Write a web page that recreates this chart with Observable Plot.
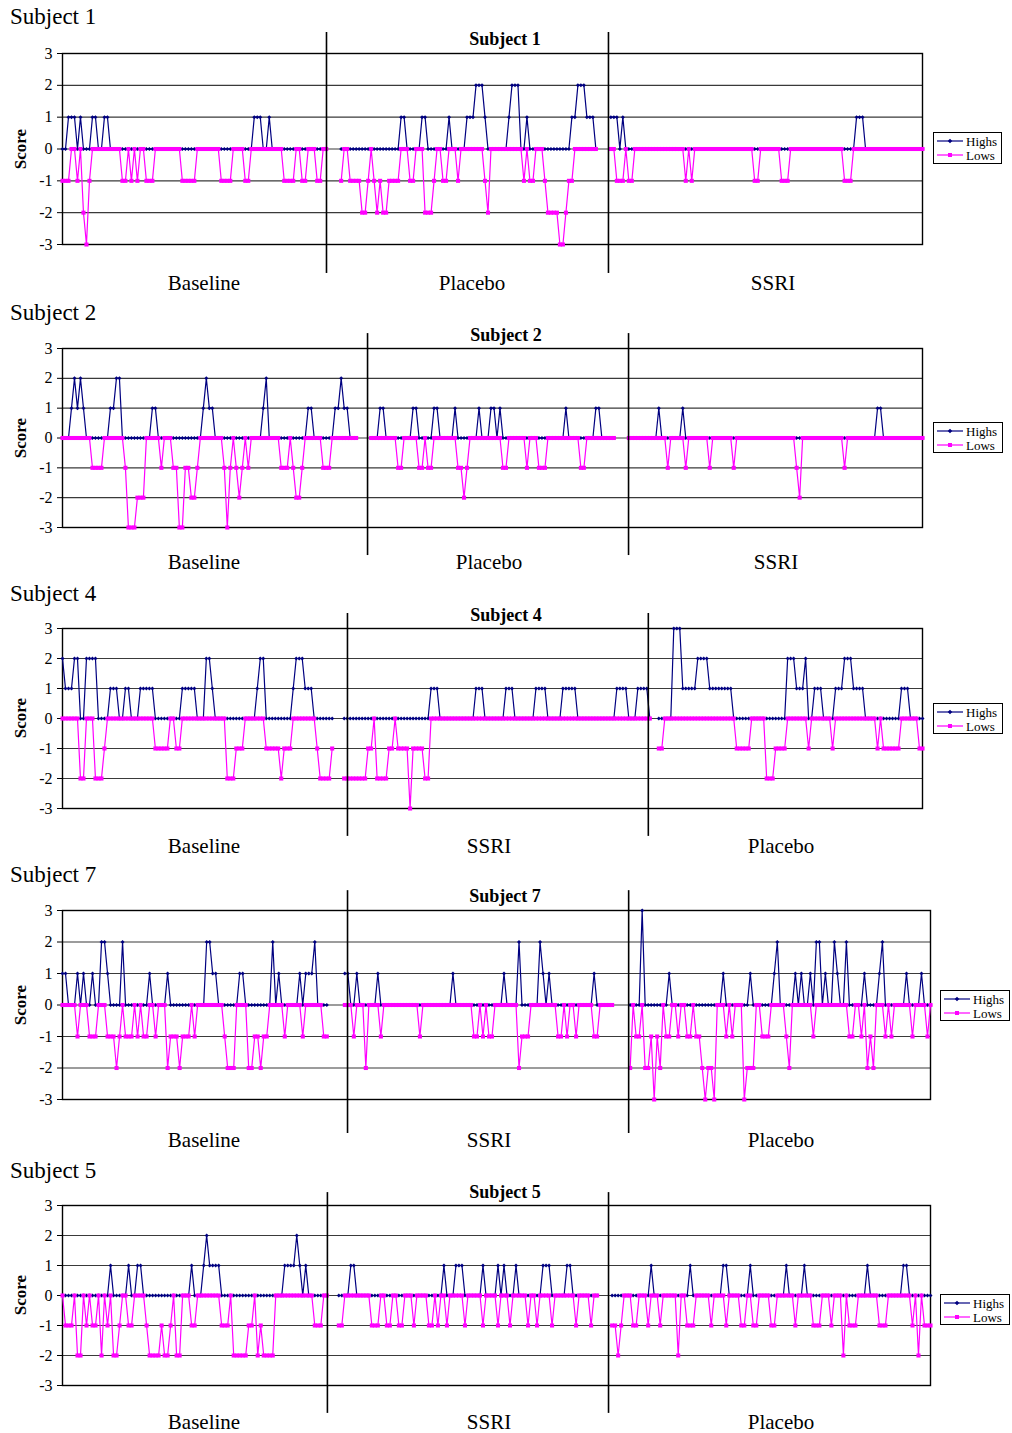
<!DOCTYPE html>
<html><head><meta charset="utf-8">
<script src="https://cdn.jsdelivr.net/npm/d3@7"></script>
<script src="https://cdn.jsdelivr.net/npm/@observablehq/plot@0.6"></script>
<style>
body{margin:0;background:#fff;}
#page{position:relative;width:1012px;height:1433px;font-family:"Liberation Serif","Times New Roman",serif;color:#000;overflow:hidden;}
.big{position:absolute;left:10px;font-size:23px;line-height:1;transform:translateY(-50%);white-space:nowrap;}
.ttl{position:absolute;font-weight:bold;font-size:18px;line-height:1;transform:translate(-50%,-50%);white-space:nowrap;}
.phase{position:absolute;font-size:21px;line-height:1;transform:translate(-50%,-50%);white-space:nowrap;}
.score{position:absolute;font-weight:bold;font-size:17px;line-height:1;transform:translate(-50%,-50%) rotate(-90deg);white-space:nowrap;}
.legend{position:absolute;border:1px solid #000;background:#fff;font-size:13px;}
.plot{position:absolute;left:0;}
</style></head><body><div id="page"></div>
<script>
// ---------- shared ----------
const yTicks = [-3, -2, -1, 0, 1, 2, 3];
const seriesNames = ["Highs", "Lows"];

// ---------- Subject 1 ----------
const s1Phases = ["Baseline", "Placebo", "SSRI"];
const s1Starts = [0, 93, 183];
const s1Dividers = [88.1, 182.2];
const s1BaselineHighs = [0,0,1,1,1,0,1,0,0,0, 1,1,0,0,1,1,0,0,0,0, 0,0,0,0,0,0,0,0,0,0, 0,0,0,0,0,0,0,0,0,0, 0,0,0,0,0,0,0,0,0,0, 0,0,0,0,0,0,0,0,0,0, 0,0,0,0,1,1,1,0,0,1, 0,0,0,0,0,0,0,0,0,0, 0,0,0,0,0,0,0,0,0];
const s1BaselineLows = [-1,-1,-1,0,0,-1,0,-2,-3,-1, 0,0,0,0,0,0,0,0,0,0, -1,-1,0,-1,0,-1,0,0,-1,-1, -1,0,0,0,0,0,0,0,0,0, -1,-1,-1,-1,-1,0,0,0,0,0, 0,0,0,-1,-1,-1,-1,0,0,0, 0,-1,-1,0,0,0,0,0,0,0, 0,0,0,0,-1,-1,-1,-1,0,0, -1,-1,0,0,0,-1,-1,0,0];
const s1PlaceboHighs = [0,0,0,0,0,0,0,0,0,0, 0,0,0,0,0,0,0,0,0,0, 1,1,0,0,0,0,0,1,1,0, 0,0,0,0,0,0,1,0,0,0, 0,0,1,1,1,2,2,2,1,0, 0,0,0,0,0,0,1,2,2,2, 0,0,1,0,0,0,0,0,0,0, 0,0,0,0,0,0,0,1,1,2, 2,2,1,1,1,0];
const s1PlaceboLows = [-1,0,0,-1,-1,-1,-1,-2,-2,-1, 0,-1,-2,-1,-2,-2,-1,-1,-1,-1, 0,0,0,-1,-1,0,0,0,-2,-2, -2,-1,0,0,-1,-1,0,0,0,-1, 0,0,0,0,0,0,0,0,-1,-2, 0,0,0,0,0,0,0,0,0,0, 0,-1,0,-1,-1,0,0,0,-1,-2, -2,-2,-2,-3,-3,-2,-1,-1,0,0, 0,0,0,0,0,0];
const s1SsriHighs = [1,1,1,0,1,0,0,0,0,0, 0,0,0,0,0,0,0,0,0,0, 0,0,0,0,0,0,0,0,0,0, 0,0,0,0,0,0,0,0,0,0, 0,0,0,0,0,0,0,0,0,0, 0,0,0,0,0,0,0,0,0,0, 0,0,0,0,0,0,0,0,0,0, 0,0,0,0,0,0,0,0,0,0, 0,0,1,1,1,0,0,0,0,0, 0,0,0,0,0,0,0,0,0,0, 0,0,0,0,0];
const s1SsriLows = [0,0,-1,-1,-1,0,-1,-1,0,0, 0,0,0,0,0,0,0,0,0,0, 0,0,0,0,0,-1,0,-1,0,0, 0,0,0,0,0,0,0,0,0,0, 0,0,0,0,0,0,0,0,-1,-1, 0,0,0,0,0,0,0,-1,-1,-1, 0,0,0,0,0,0,0,0,0,0, 0,0,0,0,0,0,0,0,-1,-1, -1,0,0,0,0,0,0,0,0,0, 0,0,0,0,0,0,0,0,0,0, 0,0,0,0,0];

// ---------- Subject 2 ----------
const s2Phases = ["Baseline", "Placebo", "SSRI"];
const s2Starts = [0, 103, 189];
const s2Dividers = [101.8, 188.9];
const s2BaselineHighs = [0,0,0,1,2,1,2,1,0,0, 0,0,0,0,0,0,1,1,2,2, 0,0,0,0,0,0,0,0,0,0, 1,1,0,0,0,0,0,0,0,0, 0,0,0,0,0,0,0,1,2,1, 1,0,0,0,0,0,0,0,0,0, 0,0,0,0,0,0,0,1,2,0, 0,0,0,0,0,0,0,0,0,0, 0,0,1,1,0,0,0,0,0,0, 0,1,1,2,1,1,0,0,0];
const s2BaselineLows = [0,0,0,0,0,0,0,0,0,0, -1,-1,-1,-1,0,0,0,0,0,0, 0,-1,-3,-3,-3,-2,-2,-2,0,0, 0,0,0,-1,0,0,0,-1,-1,-3, -3,-1,-1,-2,-2,-1,0,0,0,0, 0,0,0,0,-1,-3,-1,0,-1,-2, -1,0,-1,0,0,0,0,0,0,0, 0,0,0,-1,-1,-1,0,-1,-2,-2, -1,0,0,0,0,0,0,-1,-1,-1, 0,0,0,0,0,0,0,0,0];
const s2PlaceboHighs = [0,0,0,1,1,0,0,0,0,0, 0,0,0,0,1,1,0,0,0,0, 0,1,1,0,0,0,0,0,1,0, 0,0,0,0,0,0,1,0,0,0, 1,1,0,1,0,0,0,0,0,0, 0,0,0,0,0,0,0,0,0,0, 0,0,0,0,0,1,0,0,0,0, 0,0,0,0,0,1,1,0,0,0, 0,0];
const s2PlaceboLows = [0,0,0,0,0,0,0,0,0,-1, -1,0,0,0,0,0,-1,-1,0,-1, -1,0,0,0,0,0,0,0,0,-1, -1,-2,-1,0,0,0,0,0,0,0, 0,0,0,0,-1,-1,0,0,0,0, 0,0,-1,0,0,0,-1,-1,-1,0, 0,0,0,0,0,0,0,0,0,0, -1,-1,0,0,0,0,0,0,0,0, 0,0];
const s2SsriHighs = [0,0,0,0,0,0,0,0,0,0, 1,0,0,0,0,0,0,0,1,0, 0,0,0,0,0,0,0,0,0,0, 0,0,0,0,0,0,0,0,0,0, 0,0,0,0,0,0,0,0,0,0, 0,0,0,0,0,0,0,0,0,0, 0,0,0,0,0,0,0,0,0,0, 0,0,0,0,0,0,0,0,0,0, 0,0,0,1,1,0,0,0,0,0, 0,0,0,0,0,0,0,0,0];
const s2SsriLows = [0,0,0,0,0,0,0,0,0,0, 0,0,0,-1,0,0,0,0,0,-1, 0,0,0,0,0,0,0,-1,0,0, 0,0,0,0,0,-1,0,0,0,0, 0,0,0,0,0,0,0,0,0,0, 0,0,0,0,0,0,-1,-2,0,0, 0,0,0,0,0,0,0,0,0,0, 0,0,-1,0,0,0,0,0,0,0, 0,0,0,0,0,0,0,0,0,0, 0,0,0,0,0,0,0,0,0];

// ---------- Subject 4 ----------
const s4Phases = ["Baseline", "SSRI", "Placebo"];
const s4Starts = [0, 94, 199];
const s4Dividers = [95.1, 195.5];
const s4BaselineHighs = [2,1,1,1,2,2,0,0,2,2, 2,2,0,0,0,0,1,1,1,0, 0,1,1,0,0,0,1,1,1,1, 1,0,0,0,0,0,0,0,0,0, 1,1,1,1,1,0,0,0,2,2, 1,0,0,0,0,0,0,0,0,0, 0,0,0,0,0,1,2,2,0,0, 0,0,0,0,0,0,0,1,2,2, 2,1,1,1,0,0,0,0,0,0, 0];
const s4BaselineLows = [0,0,0,0,0,0,-2,-2,0,0, 0,-2,-2,-2,-1,0,0,0,0,0, 0,0,0,0,0,0,0,0,0,0, 0,-1,-1,-1,-1,-1,0,0,-1,-1, 0,0,0,0,0,0,0,0,0,0, 0,0,0,0,0,-2,-2,-2,-1,-1, -1,0,0,0,0,0,0,0,-1,-1, -1,-1,-1,-2,-1,-1,-1,0,0,0, 0,0,0,0,0,-1,-2,-2,-2,-2, -1];
const s4SsriHighs = [0,0,0,0,0,0,0,0,0,0, 0,0,0,0,0,0,0,0,0,0, 0,0,0,0,0,0,0,0,0,1, 1,1,0,0,0,0,0,0,0,0, 0,0,0,0,1,1,1,0,0,0, 0,0,0,0,1,1,1,0,0,0, 0,0,0,0,1,1,1,1,0,0, 0,0,0,1,1,1,1,1,0,0, 0,0,0,0,0,0,0,0,0,0, 0,1,1,1,1,0,0,0,1,1, 1,1,0];
const s4SsriLows = [-2,-2,-2,-2,-2,-2,-2,-2,-1,-1, 0,-2,-2,-2,-2,-1,-1,0,-1,-1, -1,-1,-3,-1,-1,-1,-1,-2,-2,0, 0,0,0,0,0,0,0,0,0,0, 0,0,0,0,0,0,0,0,0,0, 0,0,0,0,0,0,0,0,0,0, 0,0,0,0,0,0,0,0,0,0, 0,0,0,0,0,0,0,0,0,0, 0,0,0,0,0,0,0,0,0,0, 0,0,0,0,0,0,0,0,0,0, 0,0,0];
const s4PlaceboHighs = [0,0,0,0,0,3,3,3,1,1, 1,1,1,2,2,2,2,1,1,1, 1,1,1,1,1,0,0,0,0,0, 0,0,0,0,0,0,0,0,0,0, 0,0,0,2,2,2,1,1,1,2, 0,0,1,1,1,0,0,0,0,1, 1,1,2,2,2,1,1,1,1,0, 0,0,0,0,0,0,0,0,0,0, 0,1,1,1,0,0,0,0,0];
const s4PlaceboLows = [-1,-1,0,0,0,0,0,0,0,0, 0,0,0,0,0,0,0,0,0,0, 0,0,0,0,0,0,-1,-1,-1,-1, -1,0,0,0,0,0,-2,-2,-2,-1, -1,-1,-1,0,0,0,0,0,0,0, -1,0,0,0,0,0,0,0,-1,0, 0,0,0,0,0,0,0,0,0,0, 0,0,0,-1,0,-1,-1,-1,-1,-1, -1,0,0,0,0,0,0,-1,-1];

// ---------- Subject 7 ----------
const s7Phases = ["Baseline", "SSRI", "Placebo"];
const s7Starts = [0, 94, 189];
const s7Dividers = [94.9, 188.5];
const s7BaselineHighs = [1,1,0,0,0,1,0,1,0,0, 1,0,0,2,2,1,0,0,0,0, 2,0,0,0,0,0,0,0,0,1, 0,0,0,0,0,1,0,0,0,0, 0,0,0,0,0,0,0,0,2,2, 1,1,0,0,0,0,0,0,0,1, 1,0,0,0,0,0,0,0,0,0, 2,0,1,0,0,0,0,0,0,1, 0,1,1,1,2,0,0,0,0];
const s7BaselineLows = [0,0,0,0,0,-1,0,0,0,-1, -1,-1,0,0,0,-1,-1,-1,-2,-1, 0,-1,-1,-1,0,-1,0,-1,-1,0, 0,-1,0,0,0,-2,-1,-1,-1,-2, -1,-1,-1,0,-1,0,0,0,0,0, 0,0,0,0,-1,-2,-2,-2,0,0, 0,0,-2,-2,-1,-1,-2,-1,-1,0, 0,0,0,0,-1,0,0,0,0,0, -1,0,0,0,0,0,0,-1,-1];
const s7SsriHighs = [1,1,0,0,1,0,0,0,0,0, 0,1,0,0,0,0,0,0,0,0, 0,0,0,0,0,0,0,0,0,0, 0,0,0,0,0,0,1,0,0,0, 0,0,0,0,0,0,0,0,0,0, 0,0,0,1,0,0,0,0,2,0, 0,0,0,0,0,2,1,0,1,0, 0,0,0,0,0,0,0,0,0,0, 0,0,0,1,0,0,0,0,0,0];
const s7SsriLows = [0,0,0,-1,0,0,0,-2,0,0, 0,0,-1,0,0,0,0,0,0,0, 0,0,0,0,0,-1,0,0,0,0, 0,0,0,0,0,0,0,0,0,0, 0,0,0,-1,-1,0,-1,0,-1,-1, 0,0,0,0,0,0,0,0,-2,-1, -1,-1,0,0,0,0,0,0,0,0, 0,-1,-1,0,-1,0,0,-1,0,0, 0,0,0,-1,-1,0,0,0,0,0];
const s7PlaceboHighs = [0,0,0,0,3,0,0,0,0,0, 0,0,0,1,0,0,0,0,0,0, 0,0,0,0,0,0,0,0,0,0, 0,1,0,0,0,0,0,0,0,0, 1,0,0,0,0,0,0,0,1,2, 0,0,0,0,0,1,0,1,0,0, 1,0,2,2,0,1,0,0,2,1, 0,0,2,0,0,0,0,0,1,0, 0,0,0,1,2,0,0,0,0,0, 0,0,1,0,0,0,0,1,0,0, 0];
const s7PlaceboLows = [-2,0,-1,-1,0,-2,-2,-1,-3,-1, -2,0,-1,-1,0,0,-1,0,0,-1, -1,0,-1,-1,-2,-3,-2,-2,-3,0, 0,0,-1,0,-1,0,0,0,-3,-2, -2,-2,0,0,-1,-1,-1,0,0,0, 0,0,-1,-2,0,0,0,0,0,0, 0,-1,0,0,0,0,0,0,0,0, 0,0,0,-1,-1,0,0,-1,0,-2, -1,-2,0,0,0,-1,0,-1,0,0, 0,0,0,0,-1,0,0,0,0,-1, 0];

// ---------- Subject 5 ----------
const s5Phases = ["Baseline", "SSRI", "Placebo"];
const s5Starts = [0, 92, 183];
const s5Dividers = [88.2, 181.8];
const s5BaselineHighs = [0,0,0,0,0,0,0,0,0,0, 0,0,0,0,0,0,1,0,0,0, 0,0,1,0,0,1,1,0,0,0, 0,0,0,0,0,0,0,0,0,0, 0,0,0,1,0,0,0,1,2,1, 1,1,1,0,0,0,0,0,0,0, 0,0,0,0,0,0,0,0,0,0, 0,0,0,0,1,1,1,1,2,1, 0,1,0,0,0,0,0,0,0];
const s5BaselineLows = [0,-1,-1,-1,0,-2,-2,0,-1,0, -1,-1,0,-2,0,-1,0,-2,-2,-1, 0,0,-1,-1,0,0,0,0,-1,-2, -2,-2,-2,-1,-2,-2,-1,0,-2,-2, 0,0,0,-1,-1,0,0,0,0,0, 0,0,0,-1,-1,-1,0,-2,-2,-2, -2,-2,-1,-1,0,-2,-1,-2,-2,-2, -2,0,0,0,0,0,0,0,0,0, 0,0,0,0,-1,-1,-1,0,0];
const s5SsriHighs = [0,0,0,0,1,1,0,0,0,0, 0,0,0,0,0,0,0,0,0,0, 0,0,0,0,0,0,0,0,0,0, 0,0,0,0,0,1,0,0,0,1, 1,1,0,0,0,0,0,0,1,0, 0,0,0,1,0,1,0,0,0,1, 0,0,0,0,0,0,0,0,1,1, 1,0,0,0,0,0,1,1,0,0, 0,0,0,0,0,0,0];
const s5SsriLows = [-1,-1,0,0,0,0,0,0,0,0, 0,-1,-1,-1,0,0,-1,-1,0,0, -1,-1,0,0,0,-1,0,0,0,0, -1,-1,0,-1,0,0,-1,0,0,0, 0,0,-1,0,0,0,0,0,-1,0, 0,0,0,-1,0,0,0,-1,0,0, 0,0,0,-1,0,0,-1,0,0,0, 0,-1,0,0,0,0,0,0,0,-1, 0,0,0,0,-1,0,0];
const s5PlaceboHighs = [0,0,0,0,0,0,0,0,0,0, 0,0,0,1,0,0,0,0,0,0, 0,0,0,0,0,0,1,0,0,0, 0,0,0,0,0,0,0,1,1,0, 0,0,0,0,0,0,1,0,0,0, 0,0,0,0,0,0,0,0,1,0, 0,0,0,0,1,0,0,0,0,0, 0,0,0,0,0,0,0,0,0,0, 0,0,0,0,0,1,0,0,0,0, 0,0,0,0,0,0,0,1,1,0, 0,0,0,0,0,0,0];
const s5PlaceboLows = [-1,-1,-2,-1,0,0,0,-1,-1,0, 0,0,-1,0,0,0,-1,0,0,0, 0,0,-2,0,0,-1,-1,-1,0,0, 0,0,0,-1,0,0,0,0,-1,0, 0,0,0,-1,-1,0,0,-1,-1,0, 0,0,0,-1,-1,0,0,0,0,0, 0,-1,0,0,0,0,0,-1,-1,-1, 0,0,0,-1,0,0,0,-2,0,-1, -1,-1,0,0,0,0,0,0,0,-1, -1,-1,0,0,0,0,0,0,0,0, -1,0,-2,0,-1,-1,-1];

// ---------- layout ----------
const panels = [
  {name:"Subject 1", phases:s1Phases, starts:s1Starts, dividers:s1Dividers, highs:[s1BaselineHighs,s1PlaceboHighs,s1SsriHighs], lows:[s1BaselineLows,s1PlaceboLows,s1SsriLows], n:288,
   top:53, bottom:244, right:922, divTop:3.66, divBot:-3.91, bigY:16, ttlX:505, ttlY:39, phaseY:283, phaseX:[204,472,773], leg:[933,132,69,32]},
  {name:"Subject 2", phases:s2Phases, starts:s2Starts, dividers:s2Dividers, highs:[s2BaselineHighs,s2PlaceboHighs,s2SsriHighs], lows:[s2BaselineLows,s2PlaceboLows,s2SsriLows], n:288,
   top:348, bottom:527, right:922, divTop:3.5, divBot:-3.94, bigY:312, ttlX:506, ttlY:335, phaseY:562, phaseX:[204,489,776], leg:[933,422,70,31]},
  {name:"Subject 4", phases:s4Phases, starts:s4Starts, dividers:s4Dividers, highs:[s4BaselineHighs,s4SsriHighs,s4PlaceboHighs], lows:[s4BaselineLows,s4SsriLows,s4PlaceboLows], n:288,
   top:628, bottom:808, right:922, divTop:3.5, divBot:-3.93, bigY:593, ttlX:506, ttlY:615, phaseY:846, phaseX:[204,489,781], leg:[933,703,70,31]},
  {name:"Subject 7", phases:s7Phases, starts:s7Starts, dividers:s7Dividers, highs:[s7BaselineHighs,s7SsriHighs,s7PlaceboHighs], lows:[s7BaselineLows,s7SsriLows,s7PlaceboLows], n:290,
   top:910, bottom:1099, right:930, divTop:3.63, divBot:-4.08, bigY:874, ttlX:505, ttlY:896, phaseY:1140, phaseX:[204,489,781], leg:[940,990,70,31]},
  {name:"Subject 5", phases:s5Phases, starts:s5Starts, dividers:s5Dividers, highs:[s5BaselineHighs,s5SsriHighs,s5PlaceboHighs], lows:[s5BaselineLows,s5SsriLows,s5PlaceboLows], n:290,
   top:1205, bottom:1385, right:930, divTop:3.43, divBot:-3.93, bigY:1170, ttlX:505, ttlY:1192, phaseY:1422, phaseX:[204,489,781], leg:[940,1294,70,31]}
];

const page = document.getElementById("page");
const M_TOP = 30, M_BOT = 45;
const NAVY = "#000080", MAG = "#ff00ff";

function addText(cls, txt, x, y) {
  const d = document.createElement("div");
  d.className = cls; d.textContent = txt;
  if (x !== null) d.style.left = x + "px";
  d.style.top = y + "px";
  page.appendChild(d);
  return d;
}

panels.forEach(p => {
  const rows = [];
  p.phases.forEach((ph, k) => {
    p.highs[k].forEach((v, i) => rows.push({phase: ph, x: p.starts[k] + i, highs: v, lows: p.lows[k][i]}));
  });
  const svg = Plot.plot({
    width: 1012,
    height: p.bottom - p.top + M_TOP + M_BOT,
    marginTop: M_TOP, marginBottom: M_BOT, marginLeft: 62, marginRight: 1012 - p.right,
    x: {domain: [0, p.n - 1], axis: null},
    y: {domain: [-3, 3], ticks: yTicks, tickSize: 5, tickPadding: 5, tickFormat: d => String(d), label: null},
    style: {fontFamily: "Liberation Serif, Times New Roman, serif", fontSize: "16px", background: "transparent", overflow: "visible", color: "#000"},
    marks: [
      Plot.ruleY(yTicks, {stroke: "#3a3a3a", strokeWidth: 1.1}),
      Plot.frame({stroke: "#000", strokeWidth: 1.4}),
      Plot.line(rows, {x: "x", y: "highs", z: "phase", stroke: NAVY, strokeWidth: 1.2}),
      Plot.dot(rows, {x: "x", y: "highs", symbol: "diamond2", r: 1.8, fill: NAVY}),
      Plot.line(rows, {x: "x", y: "lows", z: "phase", stroke: MAG, strokeWidth: 1.2}),
      Plot.dot(rows, {x: "x", y: "lows", symbol: "square", r: 2.3, fill: MAG}),
      Plot.ruleX(p.dividers, {y1: p.divTop, y2: p.divBot, stroke: "#000", strokeWidth: 1.6})
    ]
  });
  svg.classList.add("plot");
  svg.style.position = "absolute";
  svg.style.top = (p.top - M_TOP) + "px";
  svg.style.left = "0px";
  page.appendChild(svg);

  addText("big", p.name, null, p.bigY);
  addText("ttl", p.name, p.ttlX, p.ttlY);
  addText("score", "Score", 20, (p.top + p.bottom) / 2);
  p.phases.forEach((ph, k) => addText("phase", ph, p.phaseX[k], p.phaseY));

  const [lx, ly, lw, lh] = p.leg;
  const lg = document.createElement("div");
  lg.className = "legend";
  lg.style.left = lx + "px"; lg.style.top = ly + "px";
  lg.style.width = (lw - 2) + "px"; lg.style.height = (lh - 2) + "px";
  lg.innerHTML = seriesNames.map((nm, i) => {
    const col = i ? MAG : NAVY;
    const mk = i ? `<rect x="11" y="3" width="4" height="4" fill="${MAG}"/>` : `<path d="M13 2.7L15.3 5L13 7.3L10.7 5Z" fill="${NAVY}"/>`;
    return `<div style="position:absolute;left:3px;top:${i ? 15 : 1}px;height:14px;display:flex;align-items:center;white-space:nowrap;">` +
      `<svg width="26" height="10"><line x1="0" y1="5" x2="26" y2="5" stroke="${col}" stroke-width="1.2"/>${mk}</svg>` +
      `<span style="margin-left:3px;line-height:1">${nm}</span></div>`;
  }).join("");
  page.appendChild(lg);
});
</script></body></html>
